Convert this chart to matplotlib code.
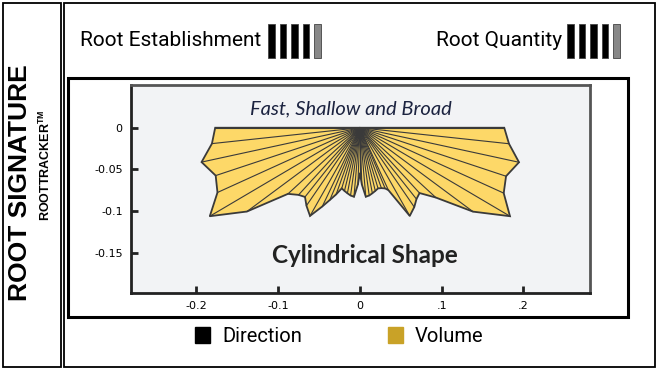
import matplotlib.pyplot as plt
import numpy as np
from matplotlib.patches import Rectangle, Polygon

# root angles (deg below horizontal, measured from outside toward the vertical)
left_angles = [0, 6, 12, 18, 24, 30, 36, 42, 47, 51, 55, 60, 64, 67, 70, 73, 76, 79, 82, 85, 88, 90]
left_lengths = [0.177, 0.182, 0.198, 0.1855, 0.1907, 0.212, 0.1708, 0.1184, 0.110, 0.1067, 0.114, 0.122,
                0.105, 0.094, 0.085, 0.076, 0.078, 0.080, 0.082, 0.083, 0.068, 0.054]
right_angles = [0, 6, 12, 18, 24, 30, 36, 42, 47, 51, 55, 60, 65, 67, 70, 73, 76, 79, 82, 85, 88]
right_lengths = [0.1766, 0.1834, 0.199, 0.188, 0.1926, 0.212, 0.171, 0.125, 0.107, 0.110, 0.116, 0.122,
                 0.0825, 0.079, 0.077, 0.076, 0.078, 0.080, 0.082, 0.083, 0.068]

xticks = [-0.2, -0.1, 0, 0.1, 0.2]
xticklabels = ['-0.2', '-0.1', '0', '.1', '.2']
yticks = [0, -0.05, -0.1, -0.15]
yticklabels = ['0', '-0.05', '-0.1', '-0.15']

establishment_bars = ['black', 'black', 'black', 'black', 'gray']
quantity_bars = ['black', 'black', 'black', 'black', 'gray']

W, H = 659, 370
fig = plt.figure(figsize=(W / 100, H / 100), dpi=100)

# frame layer in pixel coordinates
bg = fig.add_axes([0, 0, 1, 1])
bg.set_xlim(0, W)
bg.set_ylim(H, 0)
bg.axis('off')

def box(x0, y0, x1, y1, lw=1.5, color='black'):
    bg.add_patch(Rectangle((x0, y0), x1 - x0, y1 - y0, fill=False, lw=lw, ec=color))

box(3, 3, 61, 367, lw=1.3)
box(64, 3, 655, 367, lw=1.3)
box(68, 78, 628, 317, lw=2.2)

bg.text(20, 183, 'ROOT SIGNATURE', rotation=90, ha='center', va='center',
        fontsize=19, fontweight='bold', family='Liberation Sans')
bg.text(45, 165, r'ROOTTRACKER$^{\mathregular{TM}}$', rotation=90, ha='center', va='center',
        fontsize=9, fontweight='bold', family='Liberation Sans')

def bars(x0, colors):
    for i, c in enumerate(colors):
        fc = '#888888' if c == 'gray' else 'black'
        bg.add_patch(Rectangle((x0 + i * 11.5, 24), 6.5, 34, fc=fc, ec='#444444', lw=0.6))

bg.text(80, 41, 'Root Establishment', ha='left', va='center', fontsize=15, family='Roboto')
bars(268, establishment_bars)
bg.text(562, 41, 'Root Quantity', ha='right', va='center', fontsize=15, family='Roboto')
bars(567, quantity_bars)

# legend
bg.add_patch(Rectangle((195, 327), 15, 16, fc='black', ec='black'))
bg.text(222, 336, 'Direction', ha='left', va='center', fontsize=14.5, family='Roboto')
bg.add_patch(Rectangle((388, 327), 15, 16, fc='#C9A227', ec='#C9A227'))
bg.text(415, 336, 'Volume', ha='left', va='center', fontsize=14.5, family='Roboto')

# chart axes
ax = fig.add_axes([131 / W, 1 - 293 / H, (590 - 131) / W, (293 - 85) / H])
ax.set_facecolor('#F2F3F5')
ax.set_xlim(-0.28, 0.2815)
ax.set_ylim(-0.198, 0.0512)

la = np.radians(left_angles)
lr = np.array(left_lengths)
ra = np.radians(right_angles)
rr = np.array(right_lengths)
xs = np.concatenate([-lr * np.cos(la), (rr * np.cos(ra))[::-1]])
ys = np.concatenate([-lr * np.sin(la), (-rr * np.sin(ra))[::-1]])

ax.add_patch(Polygon(np.column_stack([xs, ys]), closed=True, fc='#FDD868', ec='#3a3a3a', lw=1.3, zorder=2))
for x, y in zip(xs, ys):
    ax.plot([0, x], [0, y], color='#3a3a3a', lw=0.8, zorder=3)

ax.text(-0.011, 0.0225, 'Fast, Shallow and Broad', ha='center', va='center', fontsize=14.5,
        style='italic', color='#1c2340', family='Lato')
ax.text(0.006, -0.1535, 'Cylindrical Shape', ha='center', va='center', fontsize=17.5,
        fontweight='bold', color='#222222', family='Lato')

ax.set_xticks(xticks)
ax.set_xticklabels(xticklabels)
ax.set_yticks(yticks)
ax.set_yticklabels(yticklabels)
ax.tick_params(direction='in', length=5, width=2, color='#222222', labelsize=8, pad=6)
ax.tick_params(axis='y', pad=6)
for s in ['left', 'bottom']:
    ax.spines[s].set_linewidth(2)
    ax.spines[s].set_color('#222222')
for s in ['top', 'right']:
    ax.spines[s].set_linewidth(2)
    ax.spines[s].set_color('#555555')

fig.savefig('out.png', dpi=100)
